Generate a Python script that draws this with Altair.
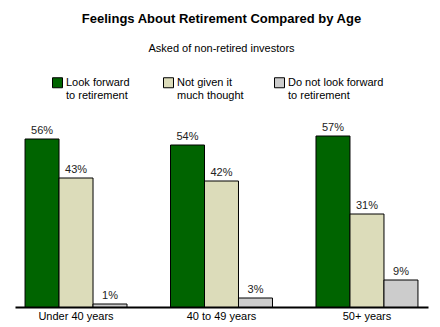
import altair as alt
import pandas as pd

groups = ["Under 40 years", "40 to 49 years", "50+ years"]
series = ["Look forward|to retirement", "Not given it|much thought", "Do not look forward|to retirement"]
look_forward = [56, 54, 57]
not_given = [43, 42, 31]
not_look = [1, 3, 9]
colors = ["#006400", "#DCDCBA", "#CCCCCC"]

rows = []
for i, g in enumerate(groups):
    for s, vals in zip(series, [look_forward, not_given, not_look]):
        rows.append({"group": g, "series": s, "value": vals[i], "label": f"{vals[i]}%"})
df = pd.DataFrame(rows)

FONT = "Liberation Sans"

x = alt.X("group:N", sort=groups,
          scale=alt.Scale(paddingInner=0.299, paddingOuter=0.069),
          axis=alt.Axis(title=None, labelAngle=0, ticks=False, domainColor="#000000",
                        domainWidth=2, labelFontSize=11, labelColor="#000000",
                        labelFont=FONT, labelPadding=3))
xo = alt.XOffset("series:N", sort=series, scale=alt.Scale(paddingInner=0, paddingOuter=0))
y = alt.Y("value:Q", scale=alt.Scale(domain=[0, 60], nice=False), axis=None)

bars = alt.Chart(df).mark_bar(stroke="#000000", strokeWidth=1).encode(
    x=x, xOffset=xo, y=y,
    color=alt.Color("series:N", sort=series,
                    scale=alt.Scale(domain=series, range=colors),
                    legend=alt.Legend(orient="none", legendX=37, legendY=-50,
                                      direction="horizontal", title=None,
                                      symbolType="square", symbolSize=100,
                                      symbolStrokeColor="#000000", symbolStrokeWidth=1,
                                      symbolOpacity=1,
                                      labelExpr="split(datum.label, '|')",
                                      labelFontSize=11, labelFont=FONT,
                                      labelColor="#000000", labelOffset=3,
                                      columnPadding=-1, gridAlign="all",
                                      labelLimit=200)),
)

text = alt.Chart(df).mark_text(dy=-8, fontSize=11, font=FONT, color="#222222").encode(
    x=x, xOffset=xo, y=y, text="label:N"
)

chart = (bars + text).properties(
    width=413, height=180,
    background="#ffffff",
    title=alt.TitleParams(
        text="Feelings About Retirement Compared by Age",
        subtitle="Asked of non-retired investors",
        font=FONT, fontSize=13, fontWeight="bold", color="#000000",
        subtitleFont=FONT, subtitleFontSize=11, subtitleColor="#000000",
        subtitlePadding=17, anchor="middle", offset=23,
    ),
    autosize=alt.AutoSizeParams(type="none"),
    padding={"left": 15, "top": 127, "right": 12, "bottom": 20},
).configure_view(strokeWidth=0, stroke=None)

chart.save("out.html", embed_options={"renderer": "svg", "actions": False})
